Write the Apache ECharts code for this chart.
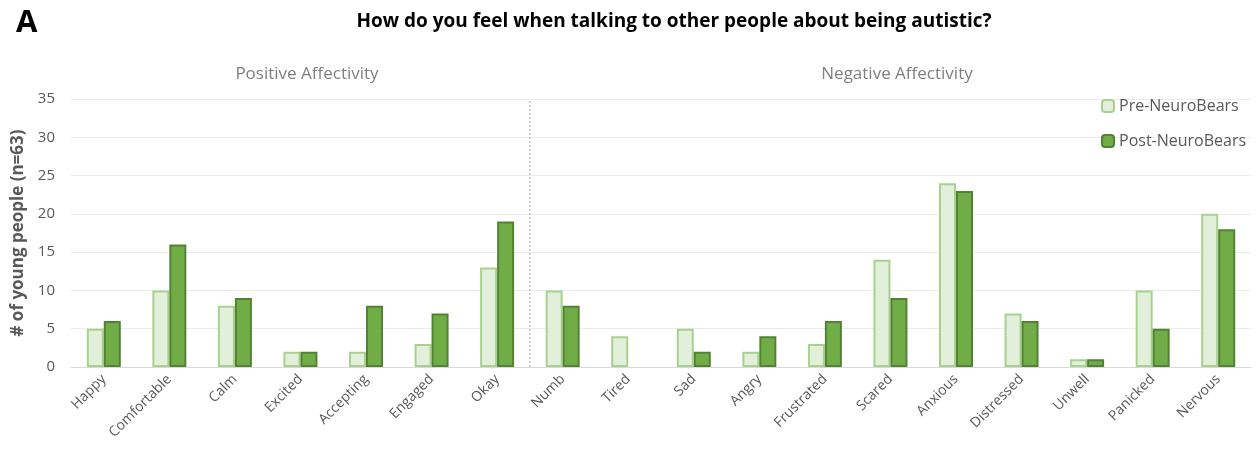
<!DOCTYPE html>
<html>
<head>
<meta charset="utf-8">
<script src="https://cdn.jsdelivr.net/npm/echarts@6/dist/echarts.min.js"></script>
<style>
html,body{margin:0;padding:0;background:#fff;}
#c{width:1256px;height:461px;}
</style>
</head>
<body>
<div id="c"></div>
<script>
const categories = ["Happy","Comfortable","Calm","Excited","Accepting","Engaged","Okay","Numb","Tired","Sad","Angry","Frustrated","Scared","Anxious","Distressed","Unwell","Panicked","Nervous"];
const preValues  = [5,10,8,2,2,3,13,10,4,5,2,3,14,24,7,1,10,20];
const postValues = [6,16,9,2,8,7,19,8,0,2,4,6,9,23,6,1,5,18];
const yTicks = {min:0, max:35, interval:5};
const dividerAt = 6.5;

const noZero = arr => arr.map(v => v === 0 ? {value:0, itemStyle:{borderWidth:0}} : v);

const chart = echarts.init(document.getElementById('c'));
const font = "'Open Sans', sans-serif";
chart.setOption({
  animation:false,
  backgroundColor:'#fff',
  textStyle:{fontFamily:font},
  title:[
    {text:'How do you feel when talking to other people about being autistic?', left:669, top:7, textAlign:'center',
     textStyle:{fontFamily:font, fontWeight:'bold', fontSize:19, color:'#000'}},
    {text:'A', left:11, top:3, textStyle:{fontFamily:font, fontWeight:'bold', fontSize:31, color:'#000'}},
    {text:'Positive Affectivity', left:302, top:61, textAlign:'center', textStyle:{fontFamily:font, fontWeight:'normal', fontSize:17, color:'#7f7f7f'}},
    {text:'Negative Affectivity', left:892, top:61, textAlign:'center', textStyle:{fontFamily:font, fontWeight:'normal', fontSize:17, color:'#7f7f7f'}}
  ],
  legend:{
    orient:'vertical', left:1096, top:93, itemGap:19, itemWidth:12, itemHeight:12,
    textStyle:{fontFamily:font, fontSize:16, color:'#595959'},
    data:['Pre-NeuroBears','Post-NeuroBears']
  },
  grid:{left:71, right:5, top:99, bottom:94},
  xAxis:[
    {type:'category', data:categories,
     axisLine:{show:true, lineStyle:{color:'#d9d9d9'}}, axisTick:{show:false},
     axisLabel:{rotate:45, interval:0, fontFamily:font, fontSize:14, color:'#595959', margin:10}},
    {type:'value', min:-0.5, max:17.5, show:false}
  ],
  yAxis:{type:'value', min:yTicks.min, max:yTicks.max, interval:yTicks.interval,
    name:'# of young people (n=63)', nameLocation:'middle', nameGap:42, nameRotate:90,
    nameTextStyle:{fontFamily:font, fontSize:17, fontWeight:'bold', color:'#595959'},
    axisLine:{show:false}, axisTick:{show:false},
    axisLabel:{fontFamily:font, fontSize:15, color:'#595959', margin:16},
    splitLine:{lineStyle:{color:'#ebebeb'}}},
  series:[
    {name:'Pre-NeuroBears', type:'bar', data:noZero(preValues), barWidth:17, barGap:'0%',
     itemStyle:{color:'#e2efda', borderColor:'#a9d18e', borderWidth:2}},
    {name:'Post-NeuroBears', type:'bar', data:noZero(postValues), barWidth:17, barGap:'0%',
     itemStyle:{color:'#70ad47', borderColor:'#548235', borderWidth:2}},
    {name:'divider', type:'line', xAxisIndex:1, data:[[dividerAt,0],[dividerAt,35]],
     symbol:'none', silent:true,
     lineStyle:{color:'#a6a6a6', width:1, type:[2,2]}}
  ]
});
</script>
</body>
</html>
